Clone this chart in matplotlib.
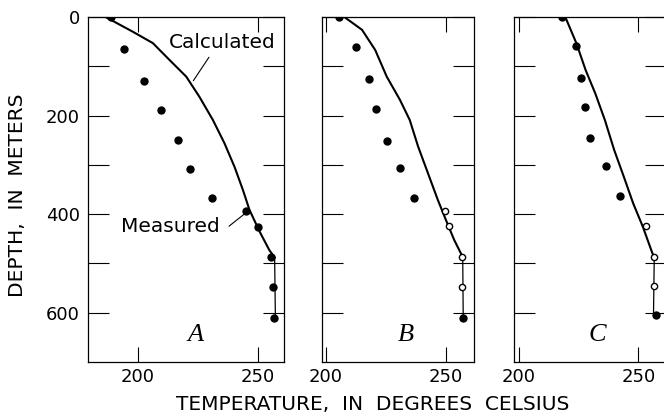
import matplotlib.pyplot as plt

# well A
a_meas_t = [188.9, 194.2, 202.5, 209.5, 216.7, 221.5, 230.8, 244.9, 249.9, 255.5, 256.4, 256.8]
a_meas_d = [0, 65, 129, 188, 250, 309, 368, 394, 427, 486, 548, 611]
a_calc_t = [186.5, 197.9, 206.2, 213.1, 220.1, 225.6, 231.2, 236.0, 240.2,
            243.7, 246.4, 250.6, 254.7, 256.9, 257.2]
a_calc_d = [0, 30, 53, 87, 121, 162, 209, 256, 304, 351, 391, 435, 473, 488, 605]

# well B
b_meas_t = [205.3, 212.6, 217.8, 220.9, 225.5, 230.8, 236.6, 249.5, 251.2, 256.9, 256.9, 257.2]
b_meas_d = [0, 60, 126, 186, 251, 307, 367, 393, 424, 487, 548, 610]
b_calc_t = [207.6, 215.0, 220.5, 225.3, 230.8, 234.9, 238.4, 242.5, 246.6,
            250.0, 253.4, 257.0, 257.2]
b_calc_d = [0, 26, 67, 121, 168, 209, 263, 317, 371, 412, 452, 487, 610]

# well C
c_meas_t = [218.3, 224.0, 226.2, 227.8, 229.9, 236.3, 242.3, 253.1, 256.7, 256.4, 257.3]
c_meas_d = [0, 59, 124, 182, 246, 302, 364, 425, 487, 546, 605]
c_calc_t = [219.5, 224.1, 228.0, 232.0, 236.0, 239.9, 243.9, 247.8, 251.8,
            255.8, 256.6, 256.3]
c_calc_d = [0, 53, 108, 155, 209, 270, 324, 378, 425, 479, 487, 600]

# index of the first hollow marker (None = all solid)
open_from = {'A': None, 'B': 7, 'C': 7}

depth_ticks = [0, 100, 200, 300, 400, 500, 600]
depth_labels = ['0', '', '200', '', '400', '', '600']
temp_ticks = [200, 250]

W, H = 664, 417
panels = [
    ('A', a_meas_t, a_meas_d, a_calc_t, a_calc_d, 88, 196, (179.2, 260.8)),
    ('B', b_meas_t, b_meas_d, b_calc_t, b_calc_d, 322, 152, (198.3, 261.7)),
    ('C', c_meas_t, c_meas_d, c_calc_t, c_calc_d, 514, 152, (198.1, 261.5)),
]

plt.rcParams['font.family'] = 'DejaVu Sans'
fig = plt.figure(figsize=(W / 100, H / 100), dpi=100)

axes = {}
for name, mt, md, ct, cd, left, width, xlim in panels:
    ax = fig.add_axes([left / W, (H - 362) / H, width / W, 345 / H])
    axes[name] = ax

    # calculated profile: heavy upper part, thin vertical tail below
    ax.plot(ct[:-1], cd[:-1], color='black', lw=1.5, zorder=2,
            solid_joinstyle='round')
    ax.plot(ct[-2:], cd[-2:], color='black', lw=0.9, zorder=2)

    k = open_from[name]
    if k is None:
        ax.plot(mt, md, 'o', color='black', ms=5, zorder=3)
    else:
        ax.plot(mt[:k], md[:k], 'o', color='black', ms=5, zorder=3)
        ax.plot(mt[k:-1], md[k:-1], 'o', mfc='white', mec='black',
                mew=1.0, ms=4.5, zorder=3)
        ax.plot(mt[-1:], md[-1:], 'o', color='black', ms=5, zorder=3)

    ax.set_xlim(*xlim)
    ax.set_ylim(700, 0)
    ax.set_xticks(temp_ticks)
    ax.set_yticks(depth_ticks)
    if name == 'A':
        ax.set_yticklabels(depth_labels)
    else:
        ax.set_yticklabels([])
    ax.tick_params(axis='y', direction='in', left=True, right=True,
                   length=15, width=0.8, pad=6, labelsize=13)
    ax.tick_params(axis='x', direction='in', top=True, bottom=True,
                   length=11, width=0.8, pad=4, labelsize=13)
    for s in ax.spines.values():
        s.set_linewidth(0.9)

    ax.text(0.55, 0.045, name, transform=ax.transAxes, ha='center',
            va='bottom', fontsize=19, style='italic',
            family='Liberation Serif')

# labels for the two curves
ax = axes['A']
ax.text(235.0, 51, 'Calculated', ha='center', va='center', fontsize=14.5)
ax.annotate('', xy=(222.4, 134), xytext=(230.2, 77),
            arrowprops=dict(arrowstyle='-', lw=0.8, color='black'))
ax.text(213.5, 425, 'Measured', ha='center', va='center', fontsize=14.5)
ax.annotate('', xy=(245.0, 397), xytext=(237.0, 428),
            arrowprops=dict(arrowstyle='-', lw=0.8, color='black'))

fig.text(18 / W, 1 - 195 / H, 'DEPTH,  IN  METERS', rotation=90,
         ha='center', va='center', fontsize=14.5)
fig.text(373 / W, 1 - 405 / H, 'TEMPERATURE,  IN  DEGREES  CELSIUS',
         ha='center', va='center', fontsize=14.5)

fig.savefig('out.png', dpi=100)
